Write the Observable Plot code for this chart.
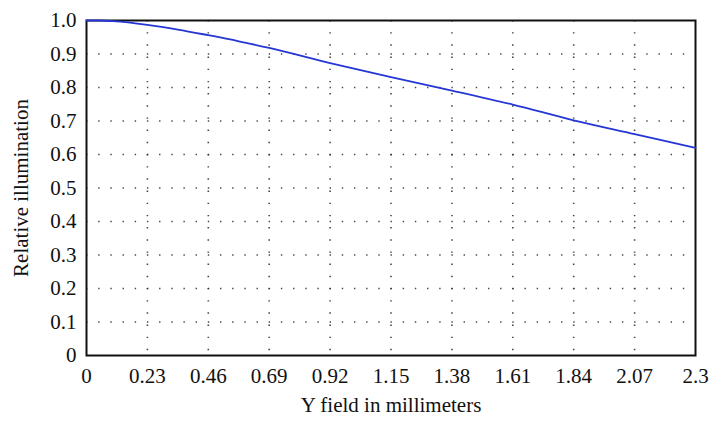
<!DOCTYPE html>
<html><head><meta charset="utf-8">
<script src="https://cdn.jsdelivr.net/npm/d3@7"></script>
<script src="https://cdn.jsdelivr.net/npm/@observablehq/plot@0.6"></script>
<style>body{margin:0;background:#fff}svg{font-family:"Liberation Serif","DejaVu Serif",serif}</style>
</head><body><div id="chart"></div>
<script>
const fieldMM = [0, 0.05, 0.1, 0.23, 0.345, 0.46, 0.575, 0.69, 0.92, 1.15, 1.38, 1.61, 1.84, 2.07, 2.3];
const illum   = [1.0, 1.0, 0.998, 0.987, 0.973, 0.956, 0.938, 0.918, 0.873, 0.831, 0.791, 0.749, 0.702, 0.661, 0.620];
const xTicks = [0, 0.23, 0.46, 0.69, 0.92, 1.15, 1.38, 1.61, 1.84, 2.07, 2.3];
const xTickLabels = ["0","0.23","0.46","0.69","0.92","1.15","1.38","1.61","1.84","2.07","2.3"];
const yTicks = [0,0.1,0.2,0.3,0.4,0.5,0.6,0.7,0.8,0.9,1.0];
const yTickLabels = ["0","0.1","0.2","0.3","0.4","0.5","0.6","0.7","0.8","0.9","1.0"];
const data = fieldMM.map((x,i)=>({x, y: illum[i]}));
const fs = 21;
const chart = Plot.plot({
  width: 722, height: 424,
  marginLeft: 86, marginRight: 27, marginTop: 20, marginBottom: 69,
  style: {fontFamily: '"Liberation Serif", serif', fontSize: fs + "px", color: "#111"},
  x: {domain: [0, 2.3]},
  y: {domain: [0, 1]},
  marks: [
    Plot.ruleX(xTicks.slice(1, -1), {stroke: "#333", strokeWidth: 1.6, strokeDasharray: "1.4,10.78", strokeOpacity: 0.9}),
    Plot.ruleY(yTicks.slice(1, -1), {stroke: "#333", strokeWidth: 1.6, strokeDasharray: "1.4,10.78", strokeOpacity: 0.9}),
    Plot.axisX(xTicks, {tickSize: 0, tickPadding: 13, tickFormat: (d,i)=>xTickLabels[i], fontSize: fs, label: null}),
    Plot.axisY(yTicks, {tickSize: 0, tickPadding: 10, tickFormat: (d,i)=>yTickLabels[i], fontSize: fs, label: null}),
    Plot.text(["Y field in millimeters"], {frameAnchor: "bottom", dy: 56, fontSize: fs}),
    Plot.text(["Relative illumination"], {frameAnchor: "left", textAnchor: "middle", dx: -65, rotate: -90, fontSize: fs}),
    Plot.frame({stroke: "#111", strokeWidth: 2}),
    Plot.line(data, {x: "x", y: "y", stroke: "#2536d4", strokeWidth: 1.8, curve: "monotone-x"})
  ]
});
document.getElementById("chart").append(chart);
</script></body></html>
